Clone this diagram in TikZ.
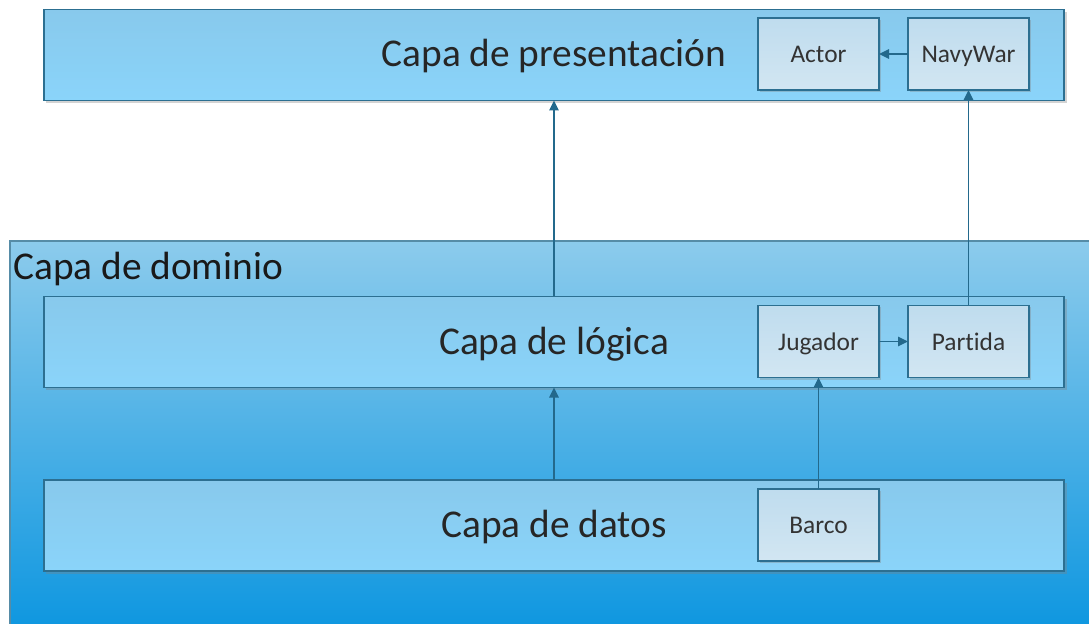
\documentclass[tikz,border=0pt]{standalone}
\usepackage{fontspec}
\setmainfont[Ligatures=NoCommon]{Carlito}
\usetikzlibrary{arrows.meta,shadows}
\definecolor{borde}{HTML}{2C6F91}
\definecolor{flecha}{HTML}{23698C}
\definecolor{capaarriba}{HTML}{88C9EC}
\definecolor{capaabajo}{HTML}{8AD4FA}
\definecolor{clasearriba}{HTML}{BFDCEE}
\definecolor{claseabajo}{HTML}{D2E6F2}
\definecolor{dominioarriba}{HTML}{8CCBEC}
\definecolor{dominioabajo}{HTML}{0F97E0}
\begin{document}
\begin{tikzpicture}[x=1bp,y=-1bp,
  capa/.style={draw=borde,line width=1.2bp,top color=capaarriba,bottom color=capaabajo,
    minimum width=1020bp,minimum height=91bp,outer sep=0pt,
    text height=24bp,text depth=0bp,
    font=\fontsize{39.5}{44}\selectfont,text=black!85,
    drop shadow={shadow xshift=2.5bp,shadow yshift=-2.5bp,opacity=.35}},
  clase/.style={draw=borde,line width=1.2bp,top color=clasearriba,bottom color=claseabajo,
    minimum width=121bp,minimum height=72bp,outer sep=0pt,
    text height=17bp,text depth=0bp,
    font=\fontsize{25.5}{30}\selectfont,text=black!80,
    drop shadow={shadow xshift=2bp,shadow yshift=-2bp,opacity=.35}},
  enlace/.style={draw=flecha,line width=1.5bp,-{Triangle[length=10bp,width=9.5bp]}}]
\clip (0,0) rectangle (1089,624);
% capa de dominio
\node[draw=borde!80,line width=1.2bp,top color=dominioarriba,bottom color=dominioabajo,
  minimum width=1100bp,minimum height=385bp,anchor=north west,outer sep=0pt] (dominio) at (10,241) {};
\node[anchor=base west,font=\fontsize{39.5}{44}\selectfont,text=black!90,inner sep=0pt] (tdominio) at (13,280) {Capa de dominio};
% capas
\node[capa] (presentacion) at (554,55) {Capa de presentación};
\node[capa] (logica) at (554,342) {Capa de lógica};
\node[capa] (datos) at (554,525.5) {Capa de datos};
% clases
\node[clase] (actor) at (818.5,54) {Actor};
\node[clase] (navywar) at (968.5,54) {NavyWar};
\node[clase] (jugador) at (818.5,341.5) {Jugador};
\node[clase] (partida) at (968.5,341.5) {Partida};
\node[clase] (barco) at (818.5,525) {Barco};
% conexiones
\draw[enlace] (navywar) -- (actor);
\draw[enlace] (jugador) -- (partida);
\draw[enlace] (logica.north) -- (presentacion.south);
\draw[enlace] (partida.north) -- (navywar.south);
\draw[enlace] (datos.north) -- (logica.south);
\draw[enlace] (barco.north) -- (jugador.south);
\end{tikzpicture}
\end{document}
